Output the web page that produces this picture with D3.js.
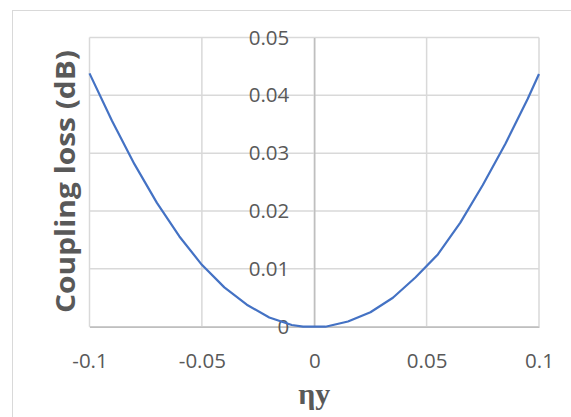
<!DOCTYPE html>
<html>
<head>
<meta charset="utf-8">
<script src="https://cdn.jsdelivr.net/npm/d3@7"></script>
<style>
  body { margin: 0; background: #fff; }
  .tick text { fill: #595959; font-family: "Open Sans", sans-serif; font-size: 20.5px; }
</style>
</head>
<body>
<div id="chart"></div>
<script>
// Coupling loss vs eta-y
var etaY = [-0.1, -0.09, -0.08, -0.07, -0.06, -0.05, -0.04, -0.03, -0.02, -0.01, -0.005, 0, 0.005,
            0.015, 0.025, 0.035, 0.045, 0.055, 0.065, 0.075, 0.085, 0.095, 0.1];
var loss = [0.0438, 0.0356, 0.0281, 0.0214, 0.0156, 0.0107, 0.0068, 0.0038, 0.0016, 0.0003, 0.0000, 0.0000, 0.0000,
            0.0009, 0.0025, 0.0050, 0.0085, 0.0125, 0.0180, 0.0245, 0.0316, 0.0394, 0.0437];
var xTicks = [-0.1, -0.05, 0, 0.05, 0.1];
var yTicks = [0, 0.01, 0.02, 0.03, 0.04, 0.05];

var width = 571, height = 417;
// plot box edges (don't call it "top", window.top is taken)
var pLeft = 89.5, pRight = 539, pTop = 37.5, pBottom = 326.7;

var svg = d3.select("#chart").append("svg")
    .attr("width", width)
    .attr("height", height);

// chart area frame (runs off the right / bottom edge)
svg.append("rect")
    .attr("x", 12.5).attr("y", 10.5)
    .attr("width", 600).attr("height", 450)
    .attr("fill", "#fff")
    .attr("stroke", "#d9d9d9")
    .attr("stroke-width", 1);

var x = d3.scaleLinear().domain([-0.1, 0.1]).range([pLeft, pRight]);
var y = d3.scaleLinear().domain([0, 0.05]).range([pBottom, pTop]);

// gridlines
svg.append("g").selectAll("line").data(yTicks).enter().append("line")
    .attr("x1", pLeft).attr("x2", pRight)
    .attr("y1", function(d) { return y(d); })
    .attr("y2", function(d) { return y(d); })
    .attr("stroke", "#d9d9d9").attr("stroke-width", 1.5);

svg.append("g").selectAll("line").data(xTicks).enter().append("line")
    .attr("y1", pTop).attr("y2", pBottom)
    .attr("x1", function(d) { return x(d); })
    .attr("x2", function(d) { return x(d); })
    .attr("stroke", "#d9d9d9").attr("stroke-width", 1.5);

// plain hyphen minus like the original
function fmt(d) { return String(d); }

// x axis at y = 0, labels below plot
var xAxis = d3.axisBottom(x).tickValues(xTicks).tickSize(0).tickPadding(27).tickFormat(fmt);
var gx = svg.append("g")
    .attr("transform", "translate(0," + pBottom + ")")
    .call(xAxis);
gx.select(".domain").attr("stroke", "#bfbfbf").attr("stroke-width", 1.5);

// y axis sits on eta = 0, labels overlap the gridlines like Excel does
var yAxis = d3.axisLeft(y).tickValues(yTicks).tickSize(0).tickPadding(25).tickFormat(fmt);
var gy = svg.append("g")
    .attr("transform", "translate(" + x(0) + ",0)")
    .call(yAxis);
gy.select(".domain").attr("stroke", "#bfbfbf").attr("stroke-width", 1.5);

// the curve
var line = d3.line()
    .x(function(d, i) { return x(etaY[i]); })
    .y(function(d) { return y(d); });

svg.append("path")
    .datum(loss)
    .attr("d", line)
    .attr("fill", "none")
    .attr("stroke", "#4472c4")
    .attr("stroke-width", 2.2)
    .attr("stroke-linejoin", "round");

// axis titles
svg.append("text")
    .attr("transform", "translate(75,181.5)rotate(-90)")
    .attr("text-anchor", "middle")
    .attr("fill", "#595959")
    .attr("font-family", "'Open Sans', sans-serif")
    .attr("font-weight", "bold")
    .attr("font-size", 26)
    .attr("textLength", 263)
    .attr("lengthAdjust", "spacingAndGlyphs")
    .text("Coupling loss (dB)");

svg.append("text")
    .attr("x", x(0)).attr("y", 404)
    .attr("text-anchor", "middle")
    .attr("fill", "#595959")
    .attr("font-family", "'Liberation Serif', serif")
    .attr("font-weight", "bold")
    .attr("font-size", 30)
    .text("ηy");
</script>
</body>
</html>
